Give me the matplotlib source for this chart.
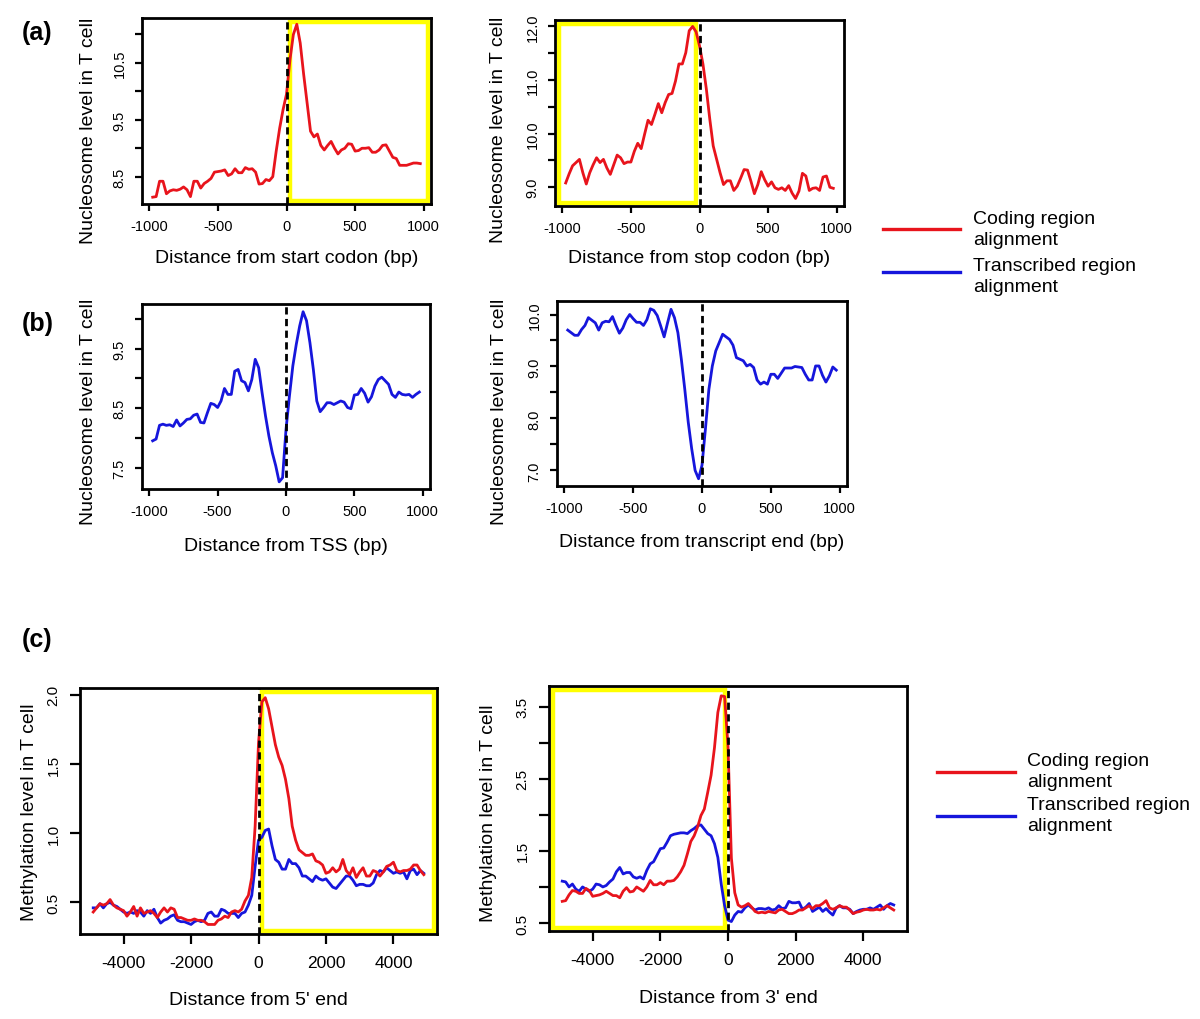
import numpy as np
import matplotlib
matplotlib.use("Agg")
import matplotlib.pyplot as plt
from matplotlib.lines import Line2D
from matplotlib.patches import Rectangle

plt.rcParams["font.family"] = ["Liberation Sans", "DejaVu Sans"]
plt.rcParams["axes.unicode_minus"] = False

# bin centres (bp)
NUC_POS = np.arange(-975, 1000, 25)
METH_POS = np.arange(-4900, 5000, 100)

# (a) nucleosome level, coding region alignment
START_CODON = [
    8.14, 8.15, 8.42, 8.42, 8.20, 8.25, 8.27, 8.26, 8.28, 8.32,
    8.27, 8.15, 8.42, 8.42, 8.30, 8.38, 8.42, 8.47, 8.58, 8.59,
    8.60, 8.62, 8.52, 8.55, 8.64, 8.57, 8.57, 8.66, 8.63, 8.64,
    8.58, 8.37, 8.38, 8.45, 8.43, 8.50, 8.95, 9.35, 9.68, 9.95,
    10.55, 11.0, 11.18, 10.85, 10.3, 9.8, 9.3, 9.2, 9.25, 9.05,
    8.97, 9.05, 9.12, 9.0, 8.9, 8.97, 9.0, 9.08, 9.07, 8.95,
    8.96, 9.0, 9.0, 9.01, 8.93, 8.93, 8.97, 9.05, 9.06, 8.95,
    8.84, 8.82, 8.70, 8.70, 8.70, 8.72, 8.74, 8.74, 8.73,
]
STOP_CODON = [
    9.08, 9.25, 9.40, 9.46, 9.52, 9.27, 9.06, 9.27, 9.42, 9.55,
    9.46, 9.52, 9.36, 9.24, 9.42, 9.60, 9.55, 9.44, 9.47, 9.47,
    9.67, 9.82, 9.72, 9.99, 10.25, 10.17, 10.36, 10.56, 10.39, 10.58,
    10.73, 10.75, 10.98, 11.30, 11.30, 11.51, 11.92, 12.00, 11.90, 11.64,
    11.30, 10.83, 10.27, 9.77, 9.52, 9.27, 9.05, 9.12, 9.12, 8.94,
    9.02, 9.17, 9.33, 9.32, 9.11, 8.88, 9.05, 9.29, 9.14, 9.02,
    9.10, 8.99, 8.96, 8.99, 8.94, 9.03, 8.89, 8.79, 8.93, 9.26,
    9.21, 8.94, 8.98, 8.99, 8.94, 9.19, 9.21, 9.00, 8.98,
]

# (b) nucleosome level, transcribed region alignment
TSS = [
    7.95, 7.98, 8.21, 8.23, 8.21, 8.22, 8.19, 8.30, 8.20, 8.25,
    8.31, 8.32, 8.38, 8.40, 8.26, 8.25, 8.42, 8.58, 8.56, 8.51,
    8.62, 8.83, 8.73, 8.73, 9.12, 9.15, 8.96, 8.93, 8.79, 8.98,
    9.32, 9.18, 8.76, 8.37, 8.03, 7.75, 7.53, 7.26, 7.33, 8.14,
    8.70, 9.21, 9.57, 9.88, 10.12, 9.97, 9.60, 9.15, 8.62, 8.44,
    8.51, 8.59, 8.59, 8.56, 8.59, 8.62, 8.60, 8.51, 8.49, 8.72,
    8.73, 8.83, 8.75, 8.60, 8.69, 8.87, 8.98, 9.02, 8.96, 8.90,
    8.73, 8.68, 8.77, 8.73, 8.72, 8.73, 8.68, 8.73, 8.77,
]
TRANSCRIPT_END = [
    9.70, 9.65, 9.60, 9.60, 9.71, 9.79, 9.94, 9.89, 9.84, 9.70,
    9.84, 9.87, 9.86, 9.96, 9.79, 9.64, 9.74, 9.90, 10.0, 9.92,
    9.85, 9.85, 9.79, 9.90, 10.11, 10.08, 9.98, 9.78, 9.57, 9.84,
    10.10, 9.94, 9.65, 9.14, 8.56, 7.93, 7.42, 7.00, 6.84, 7.10,
    7.80, 8.56, 9.01, 9.30, 9.46, 9.62, 9.57, 9.52, 9.41, 9.17,
    9.14, 9.11, 9.01, 9.04, 8.98, 8.74, 8.66, 8.70, 8.66, 8.85,
    8.85, 8.77, 8.87, 8.97, 8.97, 8.97, 9.00, 8.99, 8.98, 8.85,
    8.74, 8.74, 9.01, 9.01, 8.83, 8.70, 8.82, 8.99, 8.93,
]

# (c) methylation level around the 5' end
END5_CODING = [
    0.43, 0.46, 0.49, 0.48, 0.49, 0.52, 0.48, 0.46, 0.45, 0.44,
    0.40, 0.43, 0.47, 0.40, 0.46, 0.42, 0.43, 0.44, 0.42, 0.39,
    0.43, 0.46, 0.43, 0.46, 0.45, 0.39, 0.39, 0.38, 0.37, 0.37,
    0.38, 0.37, 0.37, 0.36, 0.34, 0.34, 0.34, 0.37, 0.38, 0.40,
    0.39, 0.43, 0.44, 0.43, 0.45, 0.51, 0.55, 0.68, 1.05, 1.65,
    1.95, 1.98, 1.90, 1.77, 1.64, 1.55, 1.49, 1.39, 1.25, 1.05,
    0.95, 0.88, 0.86, 0.84, 0.84, 0.85, 0.80, 0.79, 0.77, 0.71,
    0.72, 0.75, 0.72, 0.74, 0.81, 0.73, 0.70, 0.75, 0.68, 0.72,
    0.75, 0.69, 0.69, 0.73, 0.72, 0.69, 0.72, 0.76, 0.77, 0.79,
    0.73, 0.72, 0.73, 0.73, 0.74, 0.77, 0.77, 0.73, 0.70,
]
END5_TRANSCRIBED = [
    0.46, 0.46, 0.49, 0.46, 0.49, 0.50, 0.48, 0.47, 0.45, 0.43,
    0.42, 0.43, 0.42, 0.44, 0.43, 0.40, 0.44, 0.42, 0.45, 0.39,
    0.35, 0.37, 0.38, 0.40, 0.41, 0.37, 0.36, 0.36, 0.35, 0.34,
    0.36, 0.37, 0.36, 0.37, 0.42, 0.43, 0.40, 0.40, 0.45, 0.44,
    0.42, 0.42, 0.42, 0.39, 0.42, 0.43, 0.48, 0.55, 0.76, 0.95,
    0.97, 1.02, 1.03, 0.91, 0.81, 0.79, 0.74, 0.74, 0.81, 0.78,
    0.78, 0.75, 0.69, 0.69, 0.67, 0.65, 0.69, 0.67, 0.66, 0.67,
    0.64, 0.61, 0.60, 0.63, 0.66, 0.69, 0.69, 0.66, 0.62, 0.63,
    0.63, 0.62, 0.62, 0.64, 0.70, 0.73, 0.72, 0.75, 0.73, 0.71,
    0.72, 0.71, 0.72, 0.67, 0.73, 0.74, 0.70, 0.73, 0.71,
]

# (c) methylation level around the 3' end
END3_CODING = [
    0.80, 0.81, 0.89, 0.95, 0.94, 0.91, 0.91, 0.98, 0.95, 0.87,
    0.88, 0.89, 0.91, 0.94, 0.91, 0.88, 0.88, 0.85, 0.94, 0.99,
    0.93, 0.94, 1.00, 0.97, 0.94, 1.00, 1.09, 1.03, 1.03, 1.06,
    1.03, 1.08, 1.08, 1.09, 1.14, 1.21, 1.30, 1.46, 1.63, 1.71,
    1.83, 1.99, 2.08, 2.31, 2.55, 2.93, 3.42, 3.65, 3.64, 2.95,
    1.40, 0.92, 0.75, 0.72, 0.74, 0.77, 0.72, 0.66, 0.64, 0.65,
    0.64, 0.66, 0.65, 0.64, 0.68, 0.69, 0.66, 0.63, 0.63, 0.65,
    0.68, 0.68, 0.71, 0.74, 0.70, 0.74, 0.74, 0.77, 0.81, 0.71,
    0.69, 0.71, 0.74, 0.72, 0.72, 0.68, 0.63, 0.65, 0.66, 0.68,
    0.69, 0.68, 0.68, 0.69, 0.68, 0.71, 0.74, 0.71, 0.68,
]
END3_TRANSCRIBED = [
    1.08, 1.07, 1.00, 1.04, 0.97, 0.94, 1.00, 0.97, 0.94, 0.97,
    1.04, 1.03, 1.00, 1.02, 1.07, 1.11, 1.21, 1.27, 1.18, 1.20,
    1.20, 1.14, 1.12, 1.14, 1.11, 1.23, 1.32, 1.35, 1.44, 1.53,
    1.54, 1.62, 1.71, 1.73, 1.74, 1.75, 1.75, 1.74, 1.78, 1.81,
    1.85, 1.86, 1.80, 1.74, 1.71, 1.60, 1.41, 1.04, 0.74, 0.54,
    0.52, 0.61, 0.66, 0.65, 0.71, 0.75, 0.71, 0.68, 0.70, 0.70,
    0.69, 0.71, 0.68, 0.69, 0.74, 0.70, 0.71, 0.80, 0.78, 0.78,
    0.79, 0.69, 0.72, 0.77, 0.66, 0.69, 0.72, 0.66, 0.70, 0.65,
    0.61, 0.71, 0.74, 0.71, 0.71, 0.69, 0.63, 0.66, 0.68, 0.69,
    0.69, 0.71, 0.69, 0.72, 0.75, 0.69, 0.74, 0.77, 0.75,
]

LEGEND_LABELS = ["Coding region\nalignment", "Transcribed region\nalignment"]

RED = "#e8141c"
BLUE = "#1616dc"
YELLOW = "#ffff00"
INSET_PX = 3.5  # yellow frame sits just inside the black box

FIG_W, FIG_H = 1200, 1020


def axes_at(fig, left, top, right, bottom):
    """Axes from pixel box (origin top-left)."""
    return fig.add_axes([left / FIG_W, 1 - bottom / FIG_H,
                         (right - left) / FIG_W, (bottom - top) / FIG_H])


def add_highlight(ax, x_from, x_to):
    """Yellow outline over the aligned region, drawn inside the frame."""
    bb = ax.get_position()
    wpx = bb.width * FIG_W
    hpx = bb.height * FIG_H
    lo, hi = ax.get_xlim()
    fa = max((x_from - lo) / (hi - lo), 0.0)
    fb = min((x_to - lo) / (hi - lo), 1.0)
    ix, iy = INSET_PX / wpx, INSET_PX / hpx
    ax.add_patch(Rectangle((fa + ix, iy), fb - fa - 2 * ix, 1 - 2 * iy,
                           transform=ax.transAxes, fill=False,
                           edgecolor=YELLOW, lw=3.2, zorder=1.5))


def draw_panel(ax, x, series, xlim, ylim, xticks, yticks, ylabels,
               xlabel, ylabel, xlab_y, ylab_xy, highlight=None, big=False):
    ax.set_xlim(*xlim)
    ax.set_ylim(*ylim)
    if highlight is not None:
        add_highlight(ax, *highlight)
    for values, color in series:
        ax.plot(x, values, color=color, lw=2, zorder=2)
    ax.axvline(0, color="black", lw=2, ls=(0, (2.6, 1.6)), zorder=3)

    ax.set_xticks(xticks)
    ax.set_yticks(yticks, labels=ylabels)
    ax.tick_params(axis="x", direction="out", length=7 if big else 5,
                   width=1.6, pad=8 if big else 6,
                   labelsize=12.5 if big else 10.5)
    ax.tick_params(axis="y", direction="out", length=7 if big else 5,
                   width=1.6, pad=7 if big else 6,
                   labelsize=11 if big else 10.5)
    for lbl in ax.get_yticklabels():
        lbl.set_rotation(90)
        lbl.set_va("center")
    for spine in ax.spines.values():
        spine.set_linewidth(2)

    ax.set_xlabel(xlabel, fontsize=14)
    ax.set_ylabel(ylabel, fontsize=14)
    ax.xaxis.set_label_coords(0.5, xlab_y)
    ax.yaxis.set_label_coords(*ylab_xy)


def draw_legend(fig, x_line0, x_line1, x_text, y_red, y_blue, y_text_red,
                y_text_blue, spacing):
    for y_line, y_txt, color, label in (
            (y_red, y_text_red, RED, LEGEND_LABELS[0]),
            (y_blue, y_text_blue, BLUE, LEGEND_LABELS[1])):
        fig.add_artist(Line2D([x_line0 / FIG_W, x_line1 / FIG_W],
                              [1 - y_line / FIG_H, 1 - y_line / FIG_H],
                              color=color, lw=2.4))
        fig.text(x_text / FIG_W, 1 - y_txt / FIG_H, label, fontsize=14,
                 ha="left", va="center", linespacing=spacing)


fig = plt.figure(figsize=(FIG_W / 100, FIG_H / 100), dpi=100)

NUC_XLIM = (-1053, 1053)
NUC_XTICKS = [-1000, -500, 0, 500, 1000]
METH_XLIM = (-5292, 5292)
METH_XTICKS = [-4000, -2000, 0, 2000, 4000]
NUC_YLABEL = "Nucleosome level in T cell"
METH_YLABEL = "Methylation level in T cell"

ax = axes_at(fig, 142, 19, 431, 205)
draw_panel(ax, NUC_POS, [(START_CODON, RED)], NUC_XLIM, (8.02, 11.29),
           NUC_XTICKS, [8.5, 9.0, 9.5, 10.0, 10.5, 11.0],
           ["8.5", "", "9.5", "", "10.5", ""],
           "Distance from start codon (bp)", NUC_YLABEL, -0.24, (-0.156, 0.40),
           highlight=(0, np.inf))

ax = axes_at(fig, 555, 21, 844, 207)
draw_panel(ax, NUC_POS, [(STOP_CODON, RED)], NUC_XLIM, (8.65, 12.12),
           NUC_XTICKS, [9.0, 9.5, 10.0, 10.5, 11.0, 11.5, 12.0],
           ["9.0", "", "10.0", "", "11.0", "", "12.0"],
           "Distance from stop codon (bp)", NUC_YLABEL, -0.23, (-0.166, 0.417),
           highlight=(-np.inf, 0))

ax = axes_at(fig, 142, 305, 430, 490)
draw_panel(ax, NUC_POS, [(TSS, BLUE)], NUC_XLIM, (7.14, 10.25),
           NUC_XTICKS, [7.5, 8.0, 8.5, 9.0, 9.5, 10.0],
           ["7.5", "", "8.5", "", "9.5", ""],
           "Distance from TSS (bp)", NUC_YLABEL, -0.26, (-0.156, 0.42))

ax = axes_at(fig, 557, 302, 847, 487)
draw_panel(ax, NUC_POS, [(TRANSCRIPT_END, BLUE)], NUC_XLIM, (6.70, 10.26),
           NUC_XTICKS, [7.0, 7.5, 8.0, 8.5, 9.0, 9.5, 10.0],
           ["7.0", "", "8.0", "", "9.0", "", "10.0"],
           "Distance from transcript end (bp)", NUC_YLABEL, -0.255,
           (-0.169, 0.405))

ax = axes_at(fig, 80, 689, 437, 935)
draw_panel(ax, METH_POS, [(END5_TRANSCRIBED, BLUE), (END5_CODING, RED)],
           METH_XLIM, (0.271, 2.05), METH_XTICKS, [0.5, 1.0, 1.5, 2.0],
           ["0.5", "1.0", "1.5", "2.0"],
           "Distance from 5' end", METH_YLABEL, -0.23, (-0.118, 0.5),
           highlight=(0, np.inf), big=True)

ax = axes_at(fig, 549, 687, 907, 932)
draw_panel(ax, METH_POS, [(END3_TRANSCRIBED, BLUE), (END3_CODING, RED)],
           METH_XLIM, (0.389, 3.786), METH_XTICKS,
           [0.5, 1.0, 1.5, 2.0, 2.5, 3.0, 3.5],
           ["0.5", "", "1.5", "", "2.5", "", "3.5"],
           "Distance from 3' end", METH_YLABEL, -0.235, (-0.145, 0.484),
           highlight=(-np.inf, 0), big=True)

for letter, y_px in (("(a)", 33), ("(b)", 324), ("(c)", 640)):
    fig.text(22 / FIG_W, 1 - y_px / FIG_H, letter, fontsize=18,
             fontweight="bold", ha="left", va="center")

draw_legend(fig, 883, 960, 973, 230, 273, 230, 277, 1.35)
draw_legend(fig, 937, 1015, 1027, 773, 817, 772, 816, 1.25)

fig.savefig("out.png", dpi=100)
